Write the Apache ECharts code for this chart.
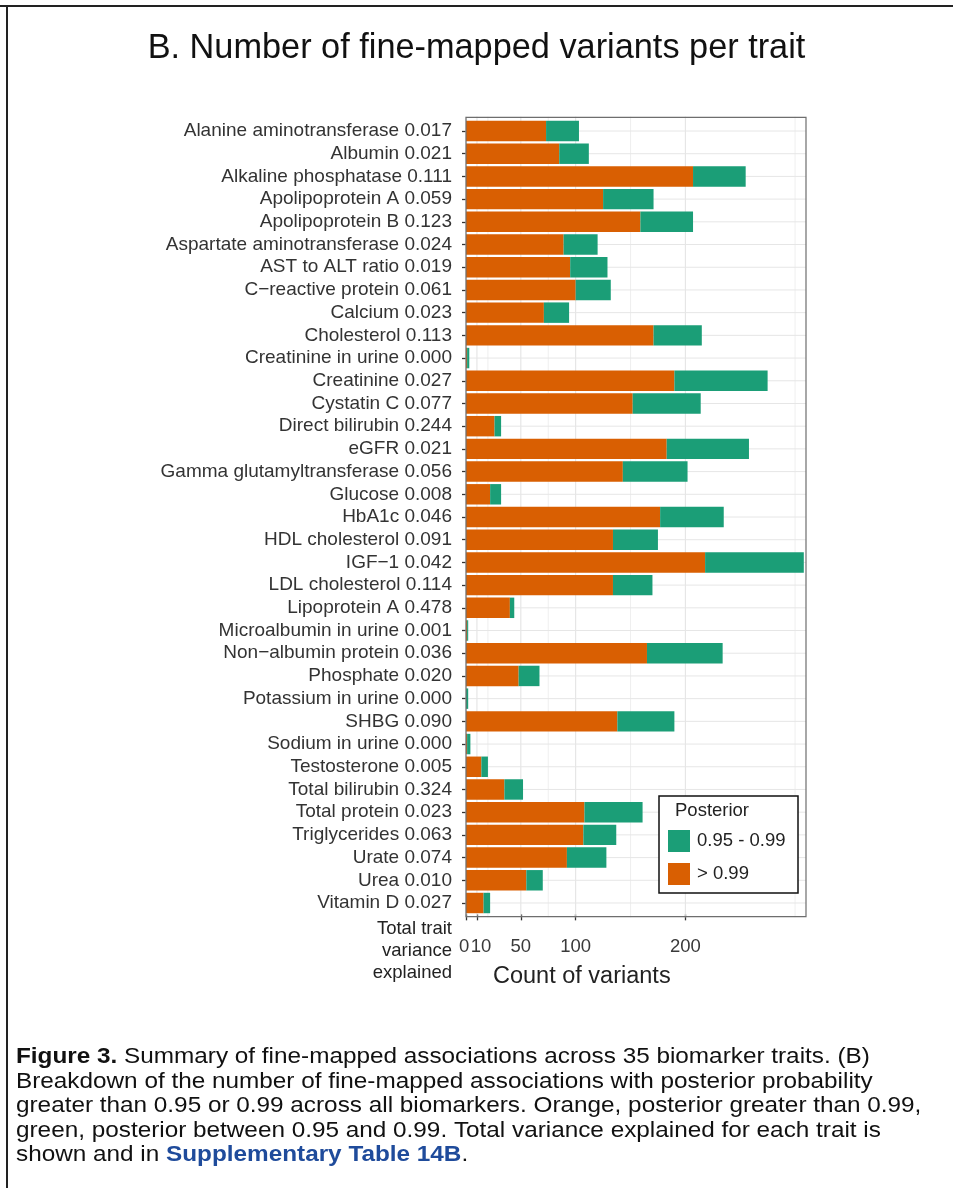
<!DOCTYPE html>
<html>
<head>
<meta charset="utf-8">
<title>Number of fine-mapped variants per trait</title>
<script src="https://cdn.jsdelivr.net/npm/echarts@6/dist/echarts.min.js"></script>
<style>
  html, body { margin: 0; padding: 0; background: #ffffff; }
  #chart { width: 953px; height: 1188px; }
</style>
</head>
<body>
<div id="chart"></div>
<script>
// Biomarker traits, in plotting order (top to bottom)
const traits = [
  'Alanine aminotransferase', 'Albumin', 'Alkaline phosphatase', 'Apolipoprotein A',
  'Apolipoprotein B', 'Aspartate aminotransferase', 'AST to ALT ratio', 'C\u2212reactive protein',
  'Calcium', 'Cholesterol', 'Creatinine in urine', 'Creatinine', 'Cystatin C',
  'Direct bilirubin', 'eGFR', 'Gamma glutamyltransferase', 'Glucose', 'HbA1c',
  'HDL cholesterol', 'IGF\u22121', 'LDL cholesterol', 'Lipoprotein A', 'Microalbumin in urine',
  'Non\u2212albumin protein', 'Phosphate', 'Potassium in urine', 'SHBG', 'Sodium in urine',
  'Testosterone', 'Total bilirubin', 'Total protein', 'Triglycerides', 'Urate', 'Urea', 'Vitamin D'
];

// Total trait variance explained
const variance = [
  '0.017', '0.021', '0.111', '0.059', '0.123', '0.024', '0.019', '0.061', '0.023', '0.113',
  '0.000', '0.027', '0.077', '0.244', '0.021', '0.056', '0.008', '0.046', '0.091', '0.042',
  '0.114', '0.478', '0.001', '0.036', '0.020', '0.000', '0.090', '0.000', '0.005', '0.324',
  '0.023', '0.063', '0.074', '0.010', '0.027'
];

// Variants with posterior > 0.99
const countHigh = [
  73, 85, 207, 125, 159, 89, 95, 100, 71, 171,
  1, 190, 152, 26, 183, 143, 22, 177, 134, 218,
  134, 40, 1, 165, 48, 0, 138, 1, 14, 35,
  108, 107, 92, 55, 16
];

// Variants with posterior 0.95 - 0.99
const countMid = [
  30, 27, 48, 46, 48, 31, 34, 32, 23, 44,
  2, 85, 62, 6, 75, 59, 10, 58, 41, 90,
  36, 4, 1, 69, 19, 2, 52, 3, 6, 17,
  53, 30, 36, 15, 6
];

// Count axis ticks and grid
const xTicks = [0, 10, 50, 100, 200];
const xMinorGrid = [20, 75, 150, 300];
const xMax = 310;

const categories = traits.map((t, i) => t + ' ' + variance[i]);

const ORANGE = '#D95F02';
const GREEN = '#1B9E77';
const FONT = 'Liberation Sans, Arial, sans-serif';

const chart = echarts.init(document.getElementById('chart'), null, { renderer: 'canvas' });

const gridLeft = 466, gridRight = 806, gridTop = 119.65, gridBottom = 914.35;
const panelTop = 117.4, panelBottom = 916.6;

// vertical grid: [value, category index, major flag]
const vGridData = xTicks.map(v => [v, 0, 1]).concat(xMinorGrid.map(v => [v, 0, 0]));
// horizontal grid: one line through each category
const hGridData = categories.map((c, i) => [0, i]);

// the first two count labels sit nearly on top of each other: keep their boxes narrow
function countLabel(value) {
  if (value === 0) return '{z|0}';
  if (value === 10) return '{t|10}';
  return String(value);
}

const option = {
  backgroundColor: '#ffffff',
  animation: false,
  textStyle: { fontFamily: FONT },
  title: {
    text: 'B. Number of fine-mapped variants per trait',
    left: 'center',
    top: 27,
    textStyle: { fontSize: 34.3, fontWeight: 'normal', color: '#111111', fontFamily: FONT }
  },
  legend: {
    orient: 'vertical',
    left: 668,
    top: 830,
    padding: 0,
    itemWidth: 22,
    itemHeight: 22,
    itemGap: 11,
    icon: 'rect',
    z: 20,
    data: ['0.95 - 0.99', '> 0.99'],
    textStyle: { fontSize: 18.5, color: '#222222', padding: [0, 0, 0, 2], fontFamily: FONT }
  },
  grid: {
    left: gridLeft,
    width: gridRight - gridLeft,
    top: gridTop,
    height: gridBottom - gridTop,
    containLabel: false
  },
  xAxis: {
    type: 'value',
    min: 0,
    max: xMax,
    axisLine: { show: false },
    splitLine: { show: false },
    axisTick: {
      show: true,
      customValues: xTicks,
      length: 6,
      lineStyle: { color: '#333333', width: 1.3 }
    },
    axisLabel: {
      customValues: xTicks,
      showMinLabel: true,
      showMaxLabel: true,
      margin: 23,
      fontSize: 18.5,
      color: '#3a3a3a',
      hideOverlap: false,
      formatter: countLabel,
      rich: {
        z: { width: 6.6, align: 'right', fontSize: 18.5, color: '#3a3a3a', fontFamily: FONT },
        t: { width: 12.6, align: 'left', fontSize: 18.5, color: '#3a3a3a', fontFamily: FONT }
      }
    }
  },
  yAxis: {
    type: 'category',
    inverse: true,
    data: categories,
    axisLine: { show: false },
    axisTick: { show: true, alignWithLabel: true, length: 4, lineStyle: { color: '#333333', width: 1.3 } },
    splitLine: { show: false },
    axisLabel: { interval: 0, fontSize: 19, color: '#333333', margin: 14, fontFamily: FONT }
  },
  series: [
    {
      // vertical panel grid lines
      type: 'custom',
      z: 1,
      silent: true,
      encode: { x: 0, y: 1 },
      data: vGridData,
      renderItem: function (params, api) {
        const x = api.coord([api.value(0), 0])[0];
        const cs = params.coordSys;
        const major = api.value(2) === 1;
        return {
          type: 'line',
          shape: { x1: x, y1: cs.y - 3, x2: x, y2: cs.y + cs.height + 3 },
          style: { stroke: major ? '#e2e2e2' : '#efefef', lineWidth: 1 }
        };
      }
    },
    {
      // horizontal panel grid lines
      type: 'custom',
      z: 1,
      silent: true,
      encode: { x: 0, y: 1 },
      data: hGridData,
      renderItem: function (params, api) {
        const y = api.coord([0, api.value(1)])[1];
        const cs = params.coordSys;
        return {
          type: 'line',
          shape: { x1: cs.x, y1: y, x2: cs.x + cs.width, y2: y },
          style: { stroke: '#e6e6e6', lineWidth: 1 }
        };
      }
    },
    {
      name: '> 0.99',
      type: 'bar',
      stack: 'count',
      z: 2,
      barWidth: '90%',
      itemStyle: { color: ORANGE },
      data: countHigh
    },
    {
      name: '0.95 - 0.99',
      type: 'bar',
      stack: 'count',
      z: 2,
      barWidth: '90%',
      itemStyle: { color: GREEN },
      data: countMid
    }
  ],
  graphic: [
    // panel border
    {
      type: 'rect',
      z: 8,
      silent: true,
      shape: { x: gridLeft, y: panelTop, width: gridRight - gridLeft, height: panelBottom - panelTop },
      style: { fill: null, stroke: '#6e6e6e', lineWidth: 1.2 }
    },
    // legend box
    {
      type: 'rect',
      z: 9,
      silent: true,
      shape: { x: 659, y: 796, width: 139, height: 97 },
      style: { fill: '#ffffff', stroke: '#111111', lineWidth: 1.5 }
    },
    {
      type: 'text',
      z: 10,
      silent: true,
      x: 675,
      y: 801,
      style: { text: 'Posterior', fontSize: 18.5, fill: '#222222', fontFamily: FONT, verticalAlign: 'top' }
    },
    // axis titles
    {
      type: 'text',
      silent: true,
      x: 493,
      y: 965,
      style: { text: 'Count of variants', fontSize: 23.5, fill: '#222222', fontFamily: FONT, verticalAlign: 'top' }
    },
    {
      type: 'text',
      silent: true,
      x: 452,
      y: 918,
      style: {
        text: 'Total trait\nvariance\nexplained',
        fontSize: 18.5,
        lineHeight: 22,
        align: 'right',
        verticalAlign: 'top',
        fill: '#222222',
        fontFamily: FONT
      }
    },
    // frame
    {
      type: 'line',
      silent: true,
      shape: { x1: 0, y1: 6, x2: 953, y2: 6 },
      style: { stroke: '#222222', lineWidth: 2 }
    },
    {
      type: 'line',
      silent: true,
      shape: { x1: 7, y1: 6, x2: 7, y2: 1188 },
      style: { stroke: '#222222', lineWidth: 2 }
    },
    // figure caption
    {
      type: 'text',
      silent: true,
      x: 16,
      y: 1045,
      scaleX: 1.105,
      style: {
        text: '{b|Figure 3.} Summary of fine-mapped associations across 35 biomarker traits. (B)\n' +
              'Breakdown of the number of fine-mapped associations with posterior probability\n' +
              'greater than 0.95 or 0.99 across all biomarkers. Orange, posterior greater than 0.99,\n' +
              'green, posterior between 0.95 and 0.99. Total variance explained for each trait is\n' +
              'shown and in {link|Supplementary Table 14B}.',
        fontSize: 22,
        lineHeight: 24.5,
        verticalAlign: 'top',
        fill: '#111111',
        fontFamily: FONT,
        rich: {
          b: { fontWeight: 'bold', fontSize: 22, fill: '#111111', fontFamily: FONT },
          link: { fontWeight: 'bold', fontSize: 22, fill: '#1f4b9b', fontFamily: FONT }
        }
      }
    }
  ]
};

chart.setOption(option);
</script>
</body>
</html>
